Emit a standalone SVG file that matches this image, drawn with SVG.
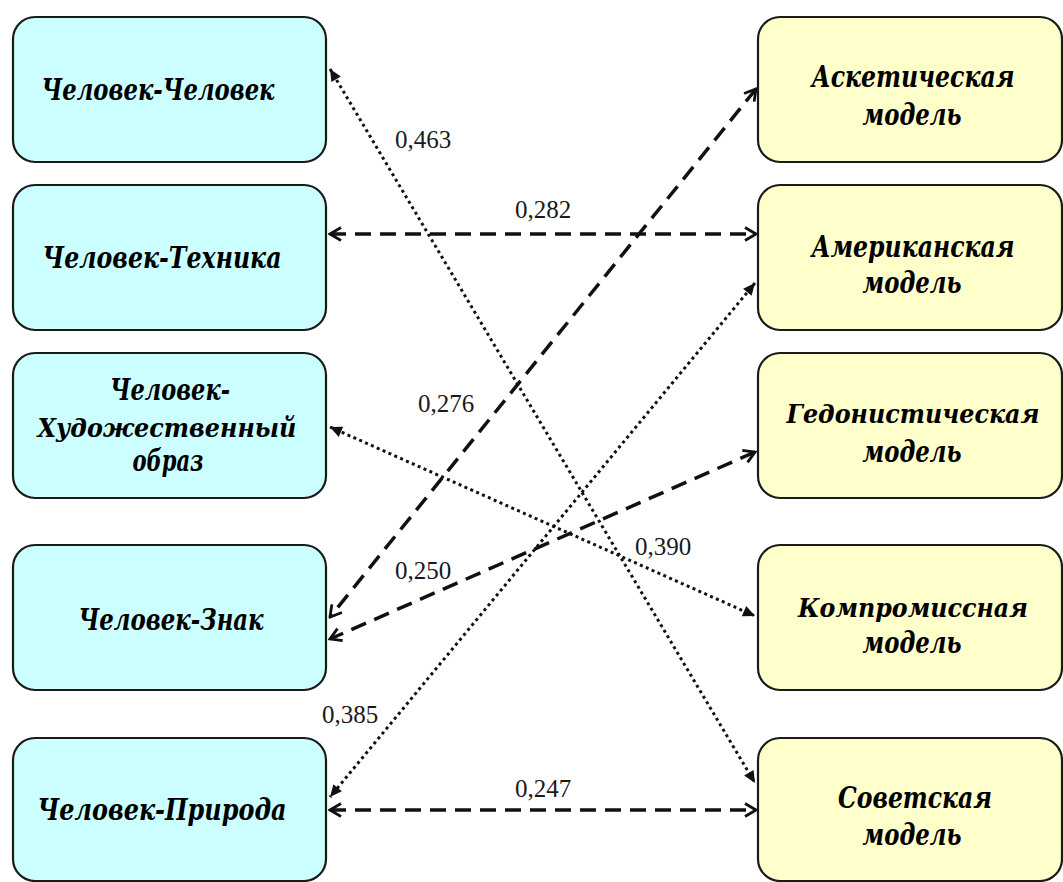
<svg xmlns="http://www.w3.org/2000/svg" width="1063" height="882" viewBox="0 0 1063 882">
<defs>
<style>
.l rect{fill:#ccffff;stroke:#1a1a1a;stroke-width:2.2}
.r rect{fill:#ffffcc;stroke:#1a1a1a;stroke-width:2.2}
.t{font-family:"DejaVu Serif","Liberation Serif",serif;font-weight:bold;font-style:italic;font-size:29px;fill:#000;text-anchor:middle}
.s{font-size:26px}
.n{font-family:"Liberation Serif","Times New Roman",serif;font-size:25px;fill:#1a1a1a}
.dash{fill:none;stroke:#111;stroke-width:3.5;stroke-dasharray:16 9;marker-start:url(#open);marker-end:url(#open)}
.dot{fill:none;stroke:#111;stroke-width:3;stroke-dasharray:3 3.4;marker-start:url(#fill);marker-end:url(#fill)}
</style>
<marker id="open" markerUnits="userSpaceOnUse" markerWidth="16" markerHeight="16" viewBox="-14 -8 16 16" refX="0" refY="0" orient="auto-start-reverse">
<path d="M-11,-6.5 L0,0 L-11,6.5" fill="none" stroke="#111" stroke-width="2.8" stroke-dasharray="none"/>
</marker>
<marker id="fill" markerUnits="userSpaceOnUse" markerWidth="16" markerHeight="16" viewBox="-14 -8 16 16" refX="0" refY="0" orient="auto-start-reverse">
<path d="M-12,-5.5 L0,0 L-12,5.5 Z" fill="#111" stroke="none"/>
</marker>
</defs>
<rect width="1063" height="882" fill="#fff"/>
<g id="connectors">
<line class="dot" x1="330" y1="69" x2="755" y2="783"/>
<line class="dash" x1="330" y1="234" x2="756" y2="234"/>
<line class="dash" x1="756" y1="89" x2="330" y2="617"/>
<line class="dot" x1="330" y1="427" x2="755" y2="616"/>
<line class="dash" x1="755" y1="452" x2="330" y2="639"/>
<line class="dot" x1="755" y1="283" x2="330" y2="797"/>
<line class="dash" x1="330" y1="810" x2="756" y2="810"/>
</g>
<g id="labels">
<text class="n" x="395" y="148">0,463</text>
<text class="n" x="515" y="218">0,282</text>
<text class="n" x="418" y="412">0,276</text>
<text class="n" x="635" y="555">0,390</text>
<text class="n" x="395" y="579">0,250</text>
<text class="n" x="322" y="723">0,385</text>
<text class="n" x="515" y="797">0,247</text>
</g>
<g id="n-chel-chel" class="l"><rect x="13" y="17" width="313" height="145" rx="22"/><text class="t" x="158" y="100" textLength="233" lengthAdjust="spacingAndGlyphs">Человек-Человек</text></g>
<g id="n-chel-tech" class="l"><rect x="13" y="185" width="313" height="145" rx="22"/><text class="t" x="162" y="268" textLength="239" lengthAdjust="spacingAndGlyphs">Человек-Техника</text></g>
<g id="n-chel-hud" class="l"><rect x="13" y="353" width="313" height="145" rx="22"/><text class="t" x="170" y="400" textLength="120" lengthAdjust="spacingAndGlyphs">Человек-</text><text class="t s" x="167" y="437" textLength="259" lengthAdjust="spacingAndGlyphs">Художественный</text><text class="t" x="168" y="471" textLength="71" lengthAdjust="spacingAndGlyphs">образ</text></g>
<g id="n-chel-znak" class="l"><rect x="13" y="545" width="313" height="145" rx="22"/><text class="t" x="171" y="630" textLength="185" lengthAdjust="spacingAndGlyphs">Человек-Знак</text></g>
<g id="n-chel-prir" class="l"><rect x="13" y="738" width="313" height="143" rx="22"/><text class="t" x="162" y="820" textLength="249" lengthAdjust="spacingAndGlyphs">Человек-Природа</text></g>
<g id="n-asket" class="r"><rect x="758" y="17" width="304" height="145" rx="22"/><text class="t" x="913" y="87" textLength="203" lengthAdjust="spacingAndGlyphs">Аскетическая</text><text class="t" x="912" y="125" textLength="99" lengthAdjust="spacingAndGlyphs">модель</text></g>
<g id="n-amer" class="r"><rect x="758" y="185" width="304" height="145" rx="22"/><text class="t" x="913" y="257" textLength="203" lengthAdjust="spacingAndGlyphs">Американская</text><text class="t" x="912" y="293" textLength="99" lengthAdjust="spacingAndGlyphs">модель</text></g>
<g id="n-gedon" class="r"><rect x="758" y="353" width="304" height="145" rx="22"/><text class="t s" x="913" y="423" textLength="253" lengthAdjust="spacingAndGlyphs">Гедонистическая</text><text class="t" x="912" y="462" textLength="99" lengthAdjust="spacingAndGlyphs">модель</text></g>
<g id="n-kompr" class="r"><rect x="758" y="545" width="304" height="145" rx="22"/><text class="t s" x="913" y="617" textLength="230" lengthAdjust="spacingAndGlyphs">Компромиссная</text><text class="t" x="912" y="653" textLength="99" lengthAdjust="spacingAndGlyphs">модель</text></g>
<g id="n-sov" class="r"><rect x="758" y="738" width="304" height="143" rx="22"/><text class="t" x="915" y="808" textLength="154" lengthAdjust="spacingAndGlyphs">Советская</text><text class="t" x="912" y="845" textLength="99" lengthAdjust="spacingAndGlyphs">модель</text></g>
</svg>
